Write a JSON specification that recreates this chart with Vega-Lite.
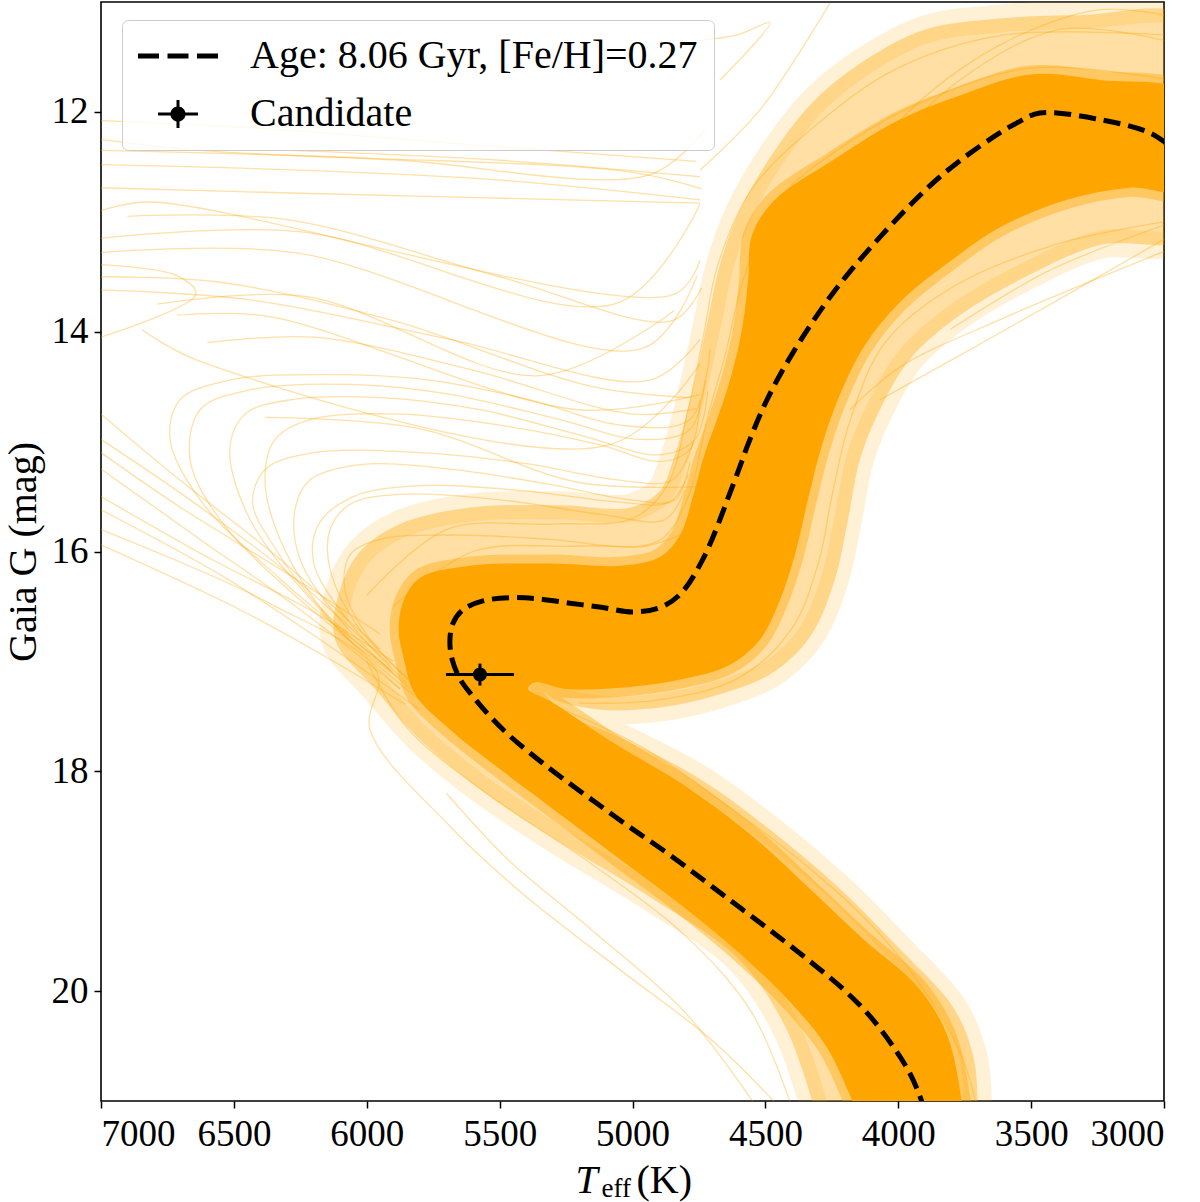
{
  "$schema": "https://vega.github.io/schema/vega-lite/v6.json",
  "width": 1063,
  "height": 1099,
  "autosize": {"type": "none"},
  "padding": {"left": 101, "top": 2, "right": 36, "bottom": 101},
  "background": "white",
  "datasets": {
    "halo": [
      {"i":0,"T":4300,"G":21.2},{"i":1,"T":4420,"G":20.35},{"i":2,"T":4600,"G":19.71},{"i":3,"T":4950,"G":19.12},
      {"i":4,"T":5290,"G":18.62},{"i":5,"T":5574,"G":18.16},{"i":6,"T":5800,"G":17.71},{"i":7,"T":5969,"G":17.25},
      {"i":8,"T":6119,"G":16.8},{"i":9,"T":6101,"G":16.35},{"i":10,"T":6025,"G":16.0},{"i":11,"T":5875,"G":15.75},
      {"i":12,"T":5611,"G":15.6},{"i":13,"T":5273,"G":15.58},{"i":14,"T":5009,"G":15.6},{"i":15,"T":4897,"G":15.45},
      {"i":16,"T":4851,"G":15.2},{"i":17,"T":4802,"G":14.8},{"i":18,"T":4757,"G":14.35},{"i":19,"T":4716,"G":13.89},
      {"i":20,"T":4671,"G":13.39},{"i":21,"T":4595,"G":12.89},{"i":22,"T":4464,"G":12.35},{"i":23,"T":4313,"G":11.89},
      {"i":24,"T":4125,"G":11.53},{"i":25,"T":3899,"G":11.25},{"i":26,"T":3617,"G":11.15},{"i":27,"T":3316,"G":11.12},
      {"i":28,"T":2900,"G":11.16},{"i":29,"T":2900,"G":13.12},{"i":30,"T":3241,"G":13.21},{"i":31,"T":3504,"G":13.48},
      {"i":32,"T":3768,"G":13.85},{"i":33,"T":3956,"G":14.25},{"i":34,"T":4069,"G":14.71},{"i":35,"T":4144,"G":15.16},
      {"i":36,"T":4189,"G":15.71},{"i":37,"T":4238,"G":16.25},{"i":38,"T":4325,"G":16.75},{"i":39,"T":4464,"G":17.09},
      {"i":40,"T":4671,"G":17.3},{"i":41,"T":4897,"G":17.42},{"i":42,"T":5122,"G":17.44},{"i":43,"T":5292,"G":17.35},
      {"i":44,"T":5329,"G":17.28},{"i":45,"T":5273,"G":17.45},{"i":46,"T":5047,"G":17.69},{"i":47,"T":4746,"G":18.07},
      {"i":48,"T":4483,"G":18.53},{"i":49,"T":4219,"G":19.07},{"i":50,"T":3993,"G":19.62},{"i":51,"T":3790,"G":20.16},
      {"i":52,"T":3715,"G":20.62},{"i":53,"T":3700,"G":21.2}
    ],
    "core": [
      {"i":0,"T":4140,"G":21.2},{"i":1,"T":4264,"G":20.53},{"i":2,"T":4407,"G":20.1},{"i":3,"T":4595,"G":19.66},
      {"i":4,"T":4821,"G":19.21},{"i":5,"T":5047,"G":18.8},{"i":6,"T":5273,"G":18.39},{"i":7,"T":5499,"G":17.98},
      {"i":8,"T":5687,"G":17.62},{"i":9,"T":5818,"G":17.3},{"i":10,"T":5860,"G":16.98},{"i":11,"T":5880,"G":16.71},
      {"i":12,"T":5860,"G":16.44},{"i":13,"T":5800,"G":16.24},{"i":14,"T":5611,"G":16.13},{"i":15,"T":5310,"G":16.11},
      {"i":16,"T":5047,"G":16.13},{"i":17,"T":4897,"G":16.05},{"i":18,"T":4821,"G":15.85},{"i":19,"T":4776,"G":15.53},
      {"i":20,"T":4735,"G":15.16},{"i":21,"T":4682,"G":14.8},{"i":22,"T":4633,"G":14.44},{"i":23,"T":4588,"G":13.98},
      {"i":24,"T":4565,"G":13.53},{"i":25,"T":4550,"G":13.12},{"i":26,"T":4464,"G":12.8},{"i":27,"T":4246,"G":12.44},
      {"i":28,"T":3993,"G":12.07},{"i":29,"T":3768,"G":11.85},{"i":30,"T":3504,"G":11.66},{"i":31,"T":3241,"G":11.71},
      {"i":32,"T":2900,"G":11.85},{"i":33,"T":2900,"G":12.71},{"i":34,"T":3128,"G":12.69},{"i":35,"T":3365,"G":12.8},
      {"i":36,"T":3617,"G":13.05},{"i":37,"T":3805,"G":13.36},{"i":38,"T":3993,"G":13.73},{"i":39,"T":4125,"G":14.12},
      {"i":40,"T":4219,"G":14.57},{"i":41,"T":4287,"G":15.03},{"i":42,"T":4340,"G":15.53},{"i":43,"T":4389,"G":16.03},
      {"i":44,"T":4445,"G":16.44},{"i":45,"T":4520,"G":16.8},{"i":46,"T":4633,"G":17.03},{"i":47,"T":4810,"G":17.16},
      {"i":48,"T":5047,"G":17.24},{"i":49,"T":5254,"G":17.25},{"i":50,"T":5367,"G":17.19},{"i":51,"T":5393,"G":17.25},
      {"i":52,"T":5310,"G":17.36},{"i":53,"T":5066,"G":17.75},{"i":54,"T":4810,"G":18.12},{"i":55,"T":4558,"G":18.57},
      {"i":56,"T":4332,"G":19.07},{"i":57,"T":4130,"G":19.53},{"i":58,"T":3920,"G":19.98},{"i":59,"T":3810,"G":20.44},
      {"i":60,"T":3750,"G":21.2}
    ],
    "fringe": [
      {"k":"L1","i":0,"T":5875,"G":17.25},{"k":"L1","i":1,"T":6251,"G":16.53},{"k":"L1","i":2,"T":6627,"G":15.89},{"k":"L1","i":3,"T":7000,"G":15.25},
      {"k":"L2","i":0,"T":5913,"G":17.03},{"k":"L2","i":1,"T":6289,"G":16.21},{"k":"L2","i":2,"T":6665,"G":15.53},{"k":"L2","i":3,"T":7000,"G":14.98},
      {"k":"L3","i":0,"T":5950,"G":16.89},{"k":"L3","i":1,"T":6326,"G":16.07},{"k":"L3","i":2,"T":6703,"G":15.35},{"k":"L3","i":3,"T":7000,"G":14.75},
      {"k":"L4","i":0,"T":5800,"G":17.44},{"k":"L4","i":1,"T":6176,"G":16.8},{"k":"L4","i":2,"T":6552,"G":16.21},{"k":"L4","i":3,"T":7000,"G":15.62},
      {"k":"L5","i":0,"T":4430,"G":21.1},{"k":"L5","i":1,"T":4700,"G":20.45},{"k":"L5","i":2,"T":5050,"G":19.8},{"k":"L5","i":3,"T":5420,"G":19.1},
      {"k":"L5","i":4,"T":5687,"G":18.5},{"k":"L5","i":5,"T":5988,"G":17.62},{"k":"L5","i":6,"T":5961,"G":17.1},{"k":"L5","i":7,"T":6375,"G":16.46},{"k":"L5","i":8,"T":7000,"G":15.8},
      {"k":"L6","i":0,"T":5856,"G":17.39},{"k":"L6","i":1,"T":6138,"G":16.98},{"k":"L6","i":2,"T":6477,"G":16.53},{"k":"L6","i":3,"T":7000,"G":15.94},
      {"k":"L7","i":0,"T":5950,"G":16.75},{"k":"L7","i":1,"T":6300,"G":16.2},{"k":"L7","i":2,"T":6700,"G":15.6},{"k":"L7","i":3,"T":7000,"G":15.1},
      {"k":"L8","i":0,"T":5900,"G":17.0},{"k":"L8","i":1,"T":6200,"G":16.55},{"k":"L8","i":2,"T":6600,"G":16.05},{"k":"L8","i":3,"T":7000,"G":15.5},
      {"k":"L9","i":0,"T":5700,"G":18.2},{"k":"L9","i":1,"T":5470,"G":18.8},{"k":"L9","i":2,"T":5150,"G":19.45},{"k":"L9","i":3,"T":4800,"G":20.2},{"k":"L9","i":4,"T":4520,"G":21.1},
      {"k":"H1","i":0,"T":5800,"G":17.35},{"k":"H1","i":1,"T":6138,"G":16.62},{"k":"H1","i":2,"T":6326,"G":15.89},{"k":"H1","i":3,"T":6383,"G":15.35},
      {"k":"H1","i":4,"T":6345,"G":14.98},{"k":"H1","i":5,"T":6214,"G":14.8},{"k":"H1","i":6,"T":5875,"G":14.75},{"k":"H1","i":7,"T":5499,"G":14.85},
      {"k":"H1","i":8,"T":5122,"G":15.03},{"k":"H1","i":9,"T":4897,"G":15.18},{"k":"H1","i":10,"T":4784,"G":15.07},{"k":"H1","i":11,"T":4746,"G":14.62},
      {"k":"H2","i":0,"T":5837,"G":17.25},{"k":"H2","i":1,"T":6101,"G":16.62},{"k":"H2","i":2,"T":6251,"G":16.07},{"k":"H2","i":3,"T":6270,"G":15.62},
      {"k":"H2","i":4,"T":6214,"G":15.35},{"k":"H2","i":5,"T":6025,"G":15.21},{"k":"H2","i":6,"T":5687,"G":15.25},{"k":"H2","i":7,"T":5310,"G":15.39},
      {"k":"H2","i":8,"T":5009,"G":15.53},{"k":"H2","i":9,"T":4840,"G":15.53},{"k":"H2","i":10,"T":4784,"G":15.18},
      {"k":"H3","i":0,"T":5800,"G":17.25},{"k":"H3","i":1,"T":6025,"G":16.71},{"k":"H3","i":2,"T":6138,"G":16.16},{"k":"H3","i":3,"T":6138,"G":15.8},
      {"k":"H3","i":4,"T":6063,"G":15.57},{"k":"H3","i":5,"T":5875,"G":15.48},{"k":"H3","i":6,"T":5499,"G":15.53},{"k":"H3","i":7,"T":5122,"G":15.66},
      {"k":"H3","i":8,"T":4878,"G":15.71},{"k":"H3","i":9,"T":4802,"G":15.44},
      {"k":"H4","i":0,"T":5875,"G":17.16},{"k":"H4","i":1,"T":6251,"G":16.44},{"k":"H4","i":2,"T":6552,"G":15.71},{"k":"H4","i":3,"T":6665,"G":15.16},
      {"k":"H4","i":4,"T":6627,"G":14.71},{"k":"H4","i":5,"T":6439,"G":14.53},{"k":"H4","i":6,"T":6063,"G":14.48},{"k":"H4","i":7,"T":5687,"G":14.57},
      {"k":"H4","i":8,"T":5273,"G":14.8},{"k":"H4","i":9,"T":4972,"G":14.98},{"k":"H4","i":10,"T":4784,"G":14.89},{"k":"H4","i":11,"T":4727,"G":14.44},
      {"k":"H5","i":0,"T":5913,"G":17.07},{"k":"H5","i":1,"T":6326,"G":16.25},{"k":"H5","i":2,"T":6627,"G":15.53},{"k":"H5","i":3,"T":6740,"G":14.98},
      {"k":"H5","i":4,"T":6703,"G":14.62},{"k":"H5","i":5,"T":6515,"G":14.44},{"k":"H5","i":6,"T":6138,"G":14.39},{"k":"H5","i":7,"T":5762,"G":14.44},
      {"k":"H5","i":8,"T":5386,"G":14.62},{"k":"H5","i":9,"T":5047,"G":14.85},{"k":"H5","i":10,"T":4784,"G":14.8},{"k":"H5","i":11,"T":4708,"G":14.16},
      {"k":"H6","i":0,"T":5762,"G":17.35},{"k":"H6","i":1,"T":5988,"G":16.8},{"k":"H6","i":2,"T":6082,"G":16.35},{"k":"H6","i":3,"T":6063,"G":16.03},
      {"k":"H6","i":4,"T":5950,"G":15.89},{"k":"H6","i":5,"T":5687,"G":15.85},{"k":"H6","i":6,"T":5310,"G":15.89},{"k":"H6","i":7,"T":4972,"G":15.96},
      {"k":"H6","i":8,"T":4821,"G":15.85},
      {"k":"H7","i":0,"T":5875,"G":17.25},{"k":"H7","i":1,"T":6176,"G":16.53},{"k":"H7","i":2,"T":6439,"G":15.71},{"k":"H7","i":3,"T":6515,"G":15.07},
      {"k":"H7","i":4,"T":6458,"G":14.75},{"k":"H7","i":5,"T":6289,"G":14.62},{"k":"H7","i":6,"T":5950,"G":14.6},{"k":"H7","i":7,"T":5574,"G":14.71},
      {"k":"H7","i":8,"T":5198,"G":14.94},{"k":"H7","i":9,"T":4897,"G":15.12},{"k":"H7","i":10,"T":4765,"G":14.98},{"k":"H7","i":11,"T":4716,"G":14.53},
      {"k":"H8","i":0,"T":5850,"G":17.2},{"k":"H8","i":1,"T":6080,"G":16.6},{"k":"H8","i":2,"T":6200,"G":16.1},{"k":"H8","i":3,"T":6180,"G":15.75},
      {"k":"H8","i":4,"T":6050,"G":15.5},{"k":"H8","i":5,"T":5800,"G":15.4},{"k":"H8","i":6,"T":5400,"G":15.45},{"k":"H8","i":7,"T":5050,"G":15.55},
      {"k":"H8","i":8,"T":4860,"G":15.55},{"k":"H8","i":9,"T":4790,"G":15.3},
      {"k":"H9","i":0,"T":5900,"G":17.1},{"k":"H9","i":1,"T":6180,"G":16.5},{"k":"H9","i":2,"T":6350,"G":15.95},{"k":"H9","i":3,"T":6430,"G":15.55},
      {"k":"H9","i":4,"T":6380,"G":15.25},{"k":"H9","i":5,"T":6200,"G":15.1},{"k":"H9","i":6,"T":5800,"G":15.1},{"k":"H9","i":7,"T":5400,"G":15.2},
      {"k":"H9","i":8,"T":5050,"G":15.35},{"k":"H9","i":9,"T":4850,"G":15.35},{"k":"H9","i":10,"T":4770,"G":15.0},
      {"k":"U1","i":0,"T":7000,"G":12.48},{"k":"U1","i":1,"T":6251,"G":12.53},{"k":"U1","i":2,"T":5499,"G":12.62},{"k":"U1","i":3,"T":4746,"G":12.8},
      {"k":"U2","i":0,"T":7000,"G":12.69},{"k":"U2","i":1,"T":6251,"G":12.74},{"k":"U2","i":2,"T":4746,"G":12.83},
      {"k":"U3","i":0,"T":6285,"G":12.35},{"k":"U3","i":1,"T":5499,"G":12.44},{"k":"U3","i":2,"T":4746,"G":12.59},
      {"k":"U4","i":0,"T":7000,"G":12.9},{"k":"U4","i":1,"T":6816,"G":12.82},{"k":"U4","i":2,"T":4844,"G":13.66},{"k":"U4","i":3,"T":4746,"G":13.35},
      {"k":"U5","i":0,"T":7000,"G":13.15},{"k":"U5","i":1,"T":6255,"G":13.09},{"k":"U5","i":2,"T":5058,"G":13.74},{"k":"U5","i":3,"T":4746,"G":12.84},
      {"k":"U6","i":0,"T":7000,"G":13.28},{"k":"U6","i":1,"T":6270,"G":13.28},{"k":"U6","i":2,"T":4960,"G":14.15},{"k":"U6","i":3,"T":4757,"G":13.49},
      {"k":"U7","i":0,"T":6789,"G":13.75},{"k":"U7","i":1,"T":6225,"G":13.68},{"k":"U7","i":2,"T":5348,"G":14.4},{"k":"U7","i":3,"T":4844,"G":13.81},
      {"k":"U8","i":0,"T":6846,"G":13.98},{"k":"U8","i":1,"T":6627,"G":14.27},{"k":"U8","i":2,"T":5088,"G":15.03},{"k":"U8","i":3,"T":4746,"G":14.29},
      {"k":"U9","i":0,"T":6714,"G":13.85},{"k":"U9","i":1,"T":6372,"G":13.86},{"k":"U9","i":2,"T":5205,"G":14.71},{"k":"U9","i":3,"T":4746,"G":14.57},
      {"k":"U10","i":0,"T":7000,"G":13.39},{"k":"U10","i":1,"T":6714,"G":13.49},{"k":"U10","i":2,"T":6643,"G":13.66},{"k":"U10","i":3,"T":7000,"G":14.05},
      {"k":"U11","i":0,"T":6383,"G":14.78},{"k":"U11","i":1,"T":5807,"G":14.88},{"k":"U11","i":2,"T":5205,"G":15.37},{"k":"U11","i":3,"T":4746,"G":15.41},
      {"k":"U12","i":0,"T":7000,"G":13.62},{"k":"U12","i":1,"T":6439,"G":13.71},{"k":"U12","i":2,"T":5687,"G":14.07},{"k":"U12","i":3,"T":4934,"G":14.44},{"k":"U12","i":4,"T":4746,"G":14.07},
      {"k":"U13","i":0,"T":7000,"G":12.25},{"k":"U13","i":1,"T":6627,"G":12.35},{"k":"U13","i":2,"T":5875,"G":12.44},{"k":"U13","i":3,"T":4934,"G":12.57},{"k":"U13","i":4,"T":4727,"G":12.16},
      {"k":"U14","i":0,"T":4746,"G":12.53},{"k":"U14","i":1,"T":4520,"G":11.98},{"k":"U14","i":2,"T":4257,"G":11.01},
      {"k":"U15","i":0,"T":4671,"G":11.71},{"k":"U15","i":1,"T":4483,"G":11.19},{"k":"U15","i":2,"T":4607,"G":11.3},{"k":"U15","i":3,"T":4746,"G":11.35},
      {"k":"U16","i":0,"T":7000,"G":12.35},{"k":"U16","i":1,"T":6000,"G":12.42},{"k":"U16","i":2,"T":5000,"G":12.55},{"k":"U16","i":3,"T":4740,"G":12.7},
      {"k":"U17","i":0,"T":6900,"G":12.95},{"k":"U17","i":1,"T":6300,"G":12.98},{"k":"U17","i":2,"T":5500,"G":13.5},{"k":"U17","i":3,"T":4850,"G":13.9},{"k":"U17","i":4,"T":4740,"G":13.6},
      {"k":"U18","i":0,"T":7000,"G":13.5},{"k":"U18","i":1,"T":6550,"G":13.55},{"k":"U18","i":2,"T":5900,"G":13.9},{"k":"U18","i":3,"T":5150,"G":14.5},{"k":"U18","i":4,"T":4780,"G":14.6},
      {"k":"U19","i":0,"T":6600,"G":14.1},{"k":"U19","i":1,"T":6200,"G":14.05},{"k":"U19","i":2,"T":5600,"G":14.35},{"k":"U19","i":3,"T":5000,"G":14.75},{"k":"U19","i":4,"T":4760,"G":14.7},
      {"k":"U20","i":0,"T":7000,"G":12.08},{"k":"U20","i":1,"T":6400,"G":12.15},{"k":"U20","i":2,"T":5600,"G":12.3},{"k":"U20","i":3,"T":4760,"G":12.45},
      {"k":"R1","i":0,"T":3000,"G":13.16},{"k":"R1","i":1,"T":3617,"G":14.01},{"k":"R1","i":2,"T":4069,"G":14.62},
      {"k":"R2","i":0,"T":3000,"G":13.27},{"k":"R2","i":1,"T":3617,"G":13.89},{"k":"R2","i":2,"T":3993,"G":14.32},{"k":"R2","i":3,"T":4182,"G":14.71},
      {"k":"R3","i":0,"T":3000,"G":13.03},{"k":"R3","i":1,"T":3429,"G":13.44},{"k":"R3","i":2,"T":3805,"G":13.98},
      {"k":"R4","i":0,"T":4370,"G":13.25},{"k":"R4","i":1,"T":3993,"G":12.07},{"k":"R4","i":2,"T":3617,"G":11.39},{"k":"R4","i":3,"T":3241,"G":11.07},{"k":"R4","i":4,"T":3000,"G":11.12},
      {"k":"R5","i":0,"T":4445,"G":13.71},{"k":"R5","i":1,"T":4106,"G":12.53},{"k":"R5","i":2,"T":3768,"G":11.71},{"k":"R5","i":3,"T":3391,"G":11.25},{"k":"R5","i":4,"T":3000,"G":11.35},
      {"k":"E1","i":0,"T":5900,"G":16.5},{"k":"E1","i":1,"T":5600,"G":16.0},{"k":"E1","i":2,"T":5200,"G":15.95},{"k":"E1","i":3,"T":4900,"G":15.9},
      {"k":"E1","i":4,"T":4790,"G":15.5},{"k":"E1","i":5,"T":4720,"G":14.8},{"k":"E1","i":6,"T":4650,"G":14.2},{"k":"E1","i":7,"T":4580,"G":13.5},
      {"k":"E1","i":8,"T":4450,"G":12.8},{"k":"E1","i":9,"T":4200,"G":12.3},{"k":"E1","i":10,"T":3900,"G":11.9},{"k":"E1","i":11,"T":3500,"G":11.6},{"k":"E1","i":12,"T":3000,"G":11.7},
      {"k":"E2","i":0,"T":6000,"G":16.4},{"k":"E2","i":1,"T":5700,"G":15.8},{"k":"E2","i":2,"T":5300,"G":15.75},{"k":"E2","i":3,"T":5000,"G":15.7},
      {"k":"E2","i":4,"T":4870,"G":15.4},{"k":"E2","i":5,"T":4790,"G":14.7},{"k":"E2","i":6,"T":4730,"G":14.0},{"k":"E2","i":7,"T":4680,"G":13.4},
      {"k":"E2","i":8,"T":4550,"G":12.7},{"k":"E2","i":9,"T":4300,"G":12.1},{"k":"E2","i":10,"T":4000,"G":11.6},{"k":"E2","i":11,"T":3600,"G":11.3},{"k":"E2","i":12,"T":3000,"G":11.3},
      {"k":"E3","i":0,"T":3000,"G":13.0},{"k":"E3","i":1,"T":3400,"G":13.2},{"k":"E3","i":2,"T":3800,"G":13.6},{"k":"E3","i":3,"T":4050,"G":14.1},
      {"k":"E3","i":4,"T":4180,"G":14.8},{"k":"E3","i":5,"T":4250,"G":15.5},{"k":"E3","i":6,"T":4300,"G":16.1},{"k":"E3","i":7,"T":4400,"G":16.7},
      {"k":"E3","i":8,"T":4600,"G":17.15},{"k":"E3","i":9,"T":4900,"G":17.35},{"k":"E3","i":10,"T":5200,"G":17.38},
      {"k":"E4","i":0,"T":5250,"G":17.45},{"k":"E4","i":1,"T":4950,"G":17.8},{"k":"E4","i":2,"T":4650,"G":18.3},{"k":"E4","i":3,"T":4350,"G":18.85},
      {"k":"E4","i":4,"T":4100,"G":19.4},{"k":"E4","i":5,"T":3900,"G":20.0},{"k":"E4","i":6,"T":3760,"G":20.6},{"k":"E4","i":7,"T":3690,"G":21.2},
      {"k":"E5","i":0,"T":6000,"G":17.0},{"k":"E5","i":1,"T":5850,"G":17.6},{"k":"E5","i":2,"T":5550,"G":18.2},{"k":"E5","i":3,"T":5150,"G":18.85},
      {"k":"E5","i":4,"T":4800,"G":19.5},{"k":"E5","i":5,"T":4550,"G":20.2},{"k":"E5","i":6,"T":4380,"G":21.2}
    ],
    "iso": [
      {"i":0,"T":3900,"G":21.1},{"i":1,"T":3918,"G":20.96},{"i":2,"T":3956,"G":20.75},{"i":3,"T":4012,"G":20.53},
      {"i":4,"T":4106,"G":20.23},{"i":5,"T":4208,"G":19.98},{"i":6,"T":4332,"G":19.73},{"i":7,"T":4464,"G":19.48},
      {"i":8,"T":4596,"G":19.24},{"i":9,"T":4727,"G":19.0},{"i":10,"T":4866,"G":18.75},{"i":11,"T":5009,"G":18.51},
      {"i":12,"T":5141,"G":18.28},{"i":13,"T":5265,"G":18.06},{"i":14,"T":5367,"G":17.87},{"i":15,"T":5461,"G":17.68},
      {"i":16,"T":5536,"G":17.5},{"i":17,"T":5600,"G":17.32},{"i":18,"T":5649,"G":17.16},
      {"i":19,"T":5679,"G":16.98},{"i":20,"T":5687,"G":16.8},{"i":21,"T":5675,"G":16.65},{"i":22,"T":5638,"G":16.53},
      {"i":23,"T":5563,"G":16.45},{"i":24,"T":5461,"G":16.42},{"i":25,"T":5359,"G":16.43},{"i":26,"T":5235,"G":16.47},
      {"i":27,"T":5111,"G":16.51},{"i":28,"T":4998,"G":16.55},{"i":29,"T":4897,"G":16.51},{"i":30,"T":4821,"G":16.39},
      {"i":31,"T":4735,"G":16.07},{"i":32,"T":4618,"G":15.37},{"i":33,"T":4558,"G":14.98},{"i":34,"T":4494,"G":14.62},
      {"i":35,"T":4396,"G":14.19},{"i":36,"T":4246,"G":13.65},{"i":37,"T":4069,"G":13.14},{"i":38,"T":3843,"G":12.59},
      {"i":39,"T":3643,"G":12.23},{"i":40,"T":3553,"G":12.1},{"i":41,"T":3467,"G":12.01},{"i":42,"T":3241,"G":12.07},
      {"i":43,"T":3064,"G":12.18},{"i":44,"T":3000,"G":12.27},{"i":45,"T":2960,"G":12.35}
    ],
    "cand": [
      {"T":5574,"G":17.12,"Tlo":5446,"Thi":5702,"Glo":17.02,"Ghi":17.22}
    ]
  },
  "resolve": {"axis": {"x": "independent"}},
  "layer": [
    {
      "data": {"name": "halo"},
      "mark": {"type": "line", "fill": "#FFA500", "stroke": "#FFA500", "fillOpacity": 0.36, "strokeOpacity": 0.16, "strokeWidth": 28, "strokeJoin": "round", "interpolate": "catmull-rom", "clip": true},
      "encoding": {
        "x": {"field": "T", "type": "quantitative",
              "scale": {"domain": [3000, 7000], "reverse": true, "nice": false, "zero": false},
              "axis": {"orient": "bottom", "values": [3000,3500,4000,4500,5000,5500,6000,6500,7000], "format": "d",
                       "labelPadding": 8, "title": "T", "titleFontStyle": "italic",
                       "titleX": 474, "titleY": 91, "titleAlign": "left", "titleBaseline": "alphabetic"}},
        "y": {"field": "G", "type": "quantitative",
              "scale": {"domain": [11, 21], "reverse": true, "nice": false, "zero": false},
              "axis": {"values": [12,14,16,18,20], "format": "d", "labelPadding": 6, "title": "Gaia G (mag)", "titlePadding": 8}},
        "order": {"field": "i", "type": "quantitative"}
      }
    },
    {
      "data": {"name": "fringe"},
      "mark": {"type": "line", "color": "#FFA500", "strokeWidth": 1.3, "opacity": 0.35, "interpolate": "catmull-rom", "clip": true},
      "encoding": {
        "x": {"field": "T", "type": "quantitative",
              "scale": {"domain": [3000, 7000], "reverse": true, "nice": false, "zero": false},
              "axis": {"orient": "bottom", "labels": false, "ticks": false, "domain": false, "title": "eff",
                       "titleFontSize": 27, "titleX": 500, "titleY": 95, "titleAlign": "left", "titleBaseline": "alphabetic"}},
        "y": {"field": "G", "type": "quantitative", "scale": {"domain": [11, 21], "reverse": true, "nice": false, "zero": false}},
        "detail": {"field": "k", "type": "nominal"},
        "order": {"field": "i", "type": "quantitative"}
      }
    },
    {
      "data": {"name": "core"},
      "mark": {"type": "line", "fill": "#FFA500", "stroke": "#FFA500", "fillOpacity": 1, "strokeOpacity": 0.4, "strokeWidth": 18, "strokeJoin": "round", "interpolate": "catmull-rom", "clip": true},
      "encoding": {
        "x": {"field": "T", "type": "quantitative",
              "scale": {"domain": [3000, 7000], "reverse": true, "nice": false, "zero": false},
              "axis": {"orient": "bottom", "labels": false, "ticks": false, "domain": false, "title": "(K)",
                       "titleX": 535, "titleY": 91, "titleAlign": "left", "titleBaseline": "alphabetic"}},
        "y": {"field": "G", "type": "quantitative", "scale": {"domain": [11, 21], "reverse": true, "nice": false, "zero": false}},
        "order": {"field": "i", "type": "quantitative"}
      }
    },
    {
      "data": {"name": "iso"},
      "mark": {"type": "line", "color": "black", "strokeWidth": 5, "strokeDash": [17, 8], "interpolate": "catmull-rom", "clip": true},
      "encoding": {
        "x": {"field": "T", "type": "quantitative", "scale": {"domain": [3000, 7000], "reverse": true, "nice": false, "zero": false}, "axis": null},
        "y": {"field": "G", "type": "quantitative", "scale": {"domain": [11, 21], "reverse": true, "nice": false, "zero": false}},
        "order": {"field": "i", "type": "quantitative"}
      }
    },
    {
      "data": {"name": "cand"},
      "mark": {"type": "rule", "color": "black", "strokeWidth": 3},
      "encoding": {
        "x": {"field": "Tlo", "type": "quantitative", "scale": {"domain": [3000, 7000], "reverse": true, "nice": false, "zero": false}, "axis": null},
        "x2": {"field": "Thi"},
        "y": {"field": "G", "type": "quantitative", "scale": {"domain": [11, 21], "reverse": true, "nice": false, "zero": false}}
      }
    },
    {
      "data": {"name": "cand"},
      "mark": {"type": "rule", "color": "black", "strokeWidth": 3},
      "encoding": {
        "x": {"field": "T", "type": "quantitative", "scale": {"domain": [3000, 7000], "reverse": true, "nice": false, "zero": false}, "axis": null},
        "y": {"field": "Glo", "type": "quantitative", "scale": {"domain": [11, 21], "reverse": true, "nice": false, "zero": false}},
        "y2": {"field": "Ghi"}
      }
    },
    {
      "data": {"name": "cand"},
      "mark": {"type": "point", "filled": true, "color": "black", "size": 200, "opacity": 1},
      "encoding": {
        "x": {"field": "T", "type": "quantitative", "scale": {"domain": [3000, 7000], "reverse": true, "nice": false, "zero": false}, "axis": null},
        "y": {"field": "G", "type": "quantitative", "scale": {"domain": [11, 21], "reverse": true, "nice": false, "zero": false}}
      }
    },
    {
      "data": {"name": "cand"},
      "mark": {"type": "point", "filled": true, "color": "black", "opacity": 0},
      "encoding": {
        "x": {"field": "T", "type": "quantitative", "scale": {"domain": [3000, 7000], "reverse": true, "nice": false, "zero": false}, "axis": null},
        "y": {"field": "G", "type": "quantitative", "scale": {"domain": [11, 21], "reverse": true, "nice": false, "zero": false}},
        "shape": {
          "datum": "Candidate", "type": "nominal",
          "scale": {
            "domain": ["Age: 8.06 Gyr, [Fe/H]=0.27", "Candidate"],
            "range": [
              "M-2,-0.125H-0.95V0.125H-2ZM-0.525,-0.125H0.525V0.125H-0.525ZM0.95,-0.125H2V0.125H0.95Z",
              "M-1,-0.075H1V0.075H-1ZM-0.075,-0.7H0.075V0.7H-0.075ZM-0.38,0A0.38,0.38,0,1,1,0.38,0A0.38,0.38,0,1,1,-0.38,0Z"
            ]
          },
          "legend": {
            "title": null, "orient": "none", "legendX": 21, "legendY": 18, "direction": "vertical",
            "padding": 16, "fillColor": "rgba(255,255,255,0.8)", "strokeColor": "#cccccc", "cornerRadius": 6,
            "symbolSize": 1600, "symbolStrokeWidth": 0, "symbolOffset": 20, "symbolOpacity": 1,
            "symbolFillColor": "black", "labelOffset": 52, "rowPadding": 18,
            "labelFont": "Liberation Serif", "labelFontSize": 40, "labelLimit": 1000, "labelColor": "black"
          }
        }
      }
    }
  ],
  "config": {
    "font": "Liberation Serif",
    "view": {"stroke": "black", "strokeWidth": 1.6},
    "axis": {
      "grid": false, "domain": false, "tickColor": "black", "tickWidth": 1.5, "tickSize": 7,
      "labelFont": "Liberation Serif", "labelFontSize": 37, "labelColor": "black",
      "titleFont": "Liberation Serif", "titleFontSize": 40, "titleColor": "black", "titleFontWeight": "normal"
    }
  }
}
